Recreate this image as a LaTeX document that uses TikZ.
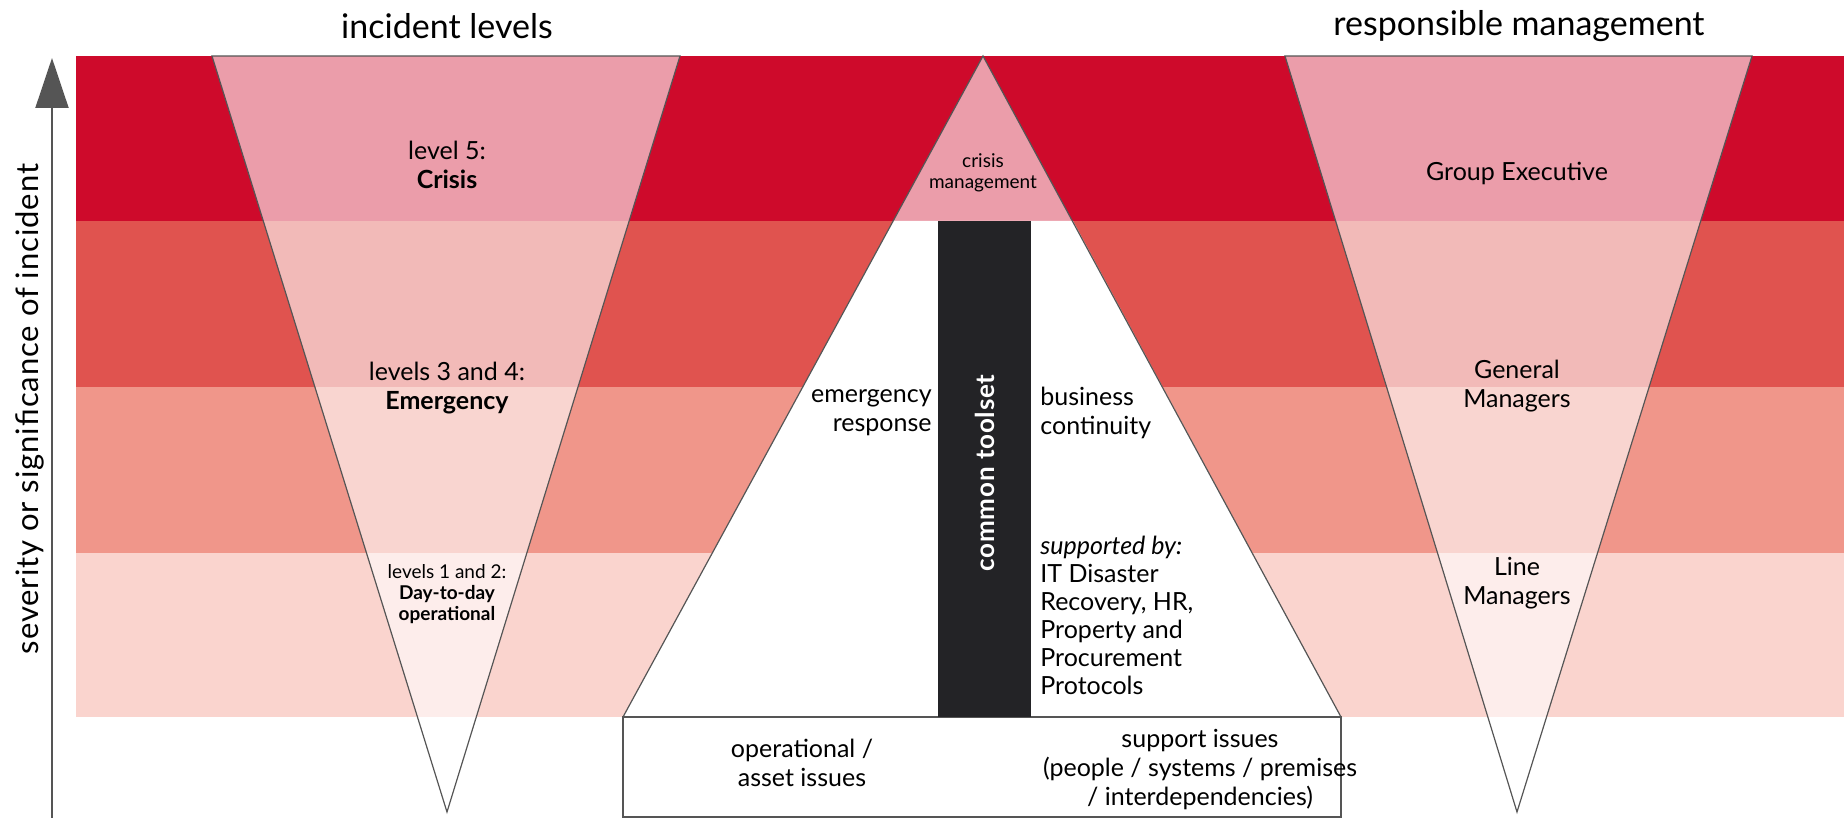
\documentclass[tikz,border=0pt]{standalone}
\usepackage{fontspec}
\setmainfont{Lato}
\newfontfamily\widefont[LetterSpace=3]{Lato}
\usetikzlibrary{arrows.meta}
\definecolor{bandA}{RGB}{206,10,43}
\definecolor{bandB}{RGB}{224,83,79}
\definecolor{bandC}{RGB}{240,150,138}
\definecolor{bandD}{RGB}{250,212,206}
\definecolor{edge}{RGB}{85,85,85}
\definecolor{barc}{RGB}{35,35,38}
\tikzset{
  txt/.style={align=center, inner sep=0pt, font=\fontsize{12.5}{14.5}\selectfont},
  smalltxt/.style={align=center, inner sep=0pt, font=\fontsize{9.5}{10.5}\selectfont},
  head/.style={inner sep=0pt, font=\fontsize{17}{20}\selectfont},
  veil/.style={fill=white, fill opacity=0.6, draw=edge, line width=0.6pt},
  tooltxt/.style={text=white, rotate=90, inner sep=0pt, font=\widefont\bfseries\fontsize{13}{15}\selectfont},
  axisarrow/.style={draw=edge, line width=1pt, -{Triangle[width=16.5pt,length=25pt,fill=edge]}}
}
\begin{document}
\begin{tikzpicture}[x=0.5pt,y=-0.5pt]
\useasboundingbox (0,0) rectangle (1844,818);
\foreach \c/\ya/\yb in {bandA/56/221, bandB/221/387, bandC/387/553, bandD/553/717}
  \fill[\c] (76,\ya) rectangle (1844,\yb);
\draw[veil] (212,56) -- (680,56) -- (447,812) -- cycle;
\draw[veil] (1285,56) -- (1752,56) -- (1517,812) -- cycle;
\fill[white, fill opacity=0.6] (983,56) -- (1341,717) -- (623,717) -- cycle;
\fill[white] (893,221) -- (1073,221) -- (1341,717) -- (623,717) -- cycle;
\draw[edge, line width=0.6pt] (983,56) -- (1341,717) -- (623,717) -- cycle;
\draw[edge, line width=1pt, fill=white] (623,717) rectangle (1341,817);
\fill[barc] (938,221) rectangle (1031,717);

\node[tooltxt] (tool) at (984.5,473) {common toolset};

\node[head] (lvl) at (447,26) {incident levels};
\node[head] (mgmt) at (1519,26) {responsible management};
\node[rotate=90, inner sep=0pt, font=\widefont\fontsize{15.5}{18}\selectfont] (axis) at (30,409) {severity or significance of incident};
\coordinate (lo) at (52,818);
\coordinate (hi) at (52,58);
\draw[axisarrow] (lo) -- (hi);

\node[txt] (l5) at (447,165) {level 5:\\\textbf{Crisis}};
\node[txt] (l34) at (447,388) {levels 3 and 4:\\\textbf{Emergency}};
\node[smalltxt] (l12) at (447,594) {levels 1 and 2:\\\textbf{Day-to-day}\\\textbf{operational}};
\node[smalltxt] (cm) at (983,173) {crisis\\management};
\node[txt, align=right, anchor=east] (er) at (932,413) {emergency\\response};
\node[txt, align=left, anchor=west] (bc) at (1040,413) {business\\continuity};
\node[txt, align=left, anchor=north west, font=\fontsize{12.5}{14}\selectfont] (sup) at (1040,536) {\textit{supported by:}\\IT Disaster\\Recovery, HR,\\Property and\\Procurement\\Protocols};
\node[txt] (op) at (802,763) {operational /\\asset issues};
\node[txt] (si) at (1200,770) {support issues\\(people / systems / premises\\/ interdependencies)};
\node[txt] (ge) at (1517,173) {Group Executive};
\node[txt] (gm) at (1517,386) {General\\Managers};
\node[txt] (lm) at (1517,583) {Line\\Managers};
\end{tikzpicture}
\end{document}
